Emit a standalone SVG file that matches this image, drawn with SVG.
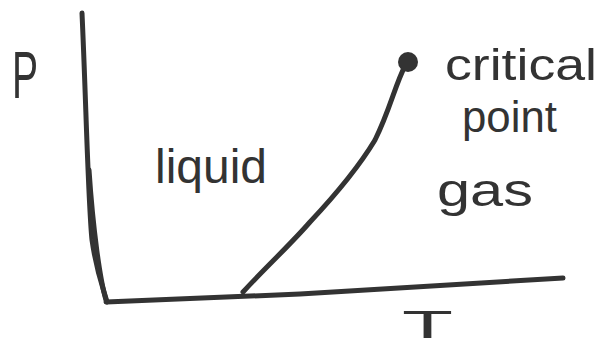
<svg xmlns="http://www.w3.org/2000/svg" width="601" height="347" viewBox="0 0 601 347">
<style>
.ink{fill:none;stroke:#333;stroke-width:5;stroke-linecap:round;stroke-linejoin:round}
.lbl{font-family:"Liberation Sans","DejaVu Sans",sans-serif;fill:#333}
</style>
<rect width="601" height="347" fill="#fff"/>
<g id="axes">
<path class="ink" d="M82,13 C86,100 88,200 92,240 C97,275 104,290 107,302"/>
<path class="ink" d="M89,170 C93,230 100,280 106,300" stroke-width="8"/>
<path class="ink" d="M106,302 L300,294 L563,278"/>
</g>
<g id="connectors">
<path class="ink" d="M243,292 C265,268 290,245 310,222 C340,190 360,165 375,140 C390,110 395,85 405,66"/>
</g>
<g id="critical-point">
<circle cx="408" cy="62" r="10" fill="#333"/>
<text class="lbl" x="445" y="80" font-size="44" textLength="152" lengthAdjust="spacingAndGlyphs">critical</text>
<text class="lbl" x="462" y="132" font-size="44" textLength="95" lengthAdjust="spacingAndGlyphs">point</text>
</g>
<g id="liquid">
<text class="lbl" x="155" y="183" font-size="48" textLength="112" lengthAdjust="spacingAndGlyphs">liquid</text>
</g>
<g id="gas">
<text class="lbl" x="437" y="206" font-size="46" textLength="96" lengthAdjust="spacingAndGlyphs">gas</text>
</g>
<g id="P-label">
<text class="lbl" x="12" y="98" font-size="66" textLength="26" lengthAdjust="spacingAndGlyphs">P</text>
</g>
<g id="T-label">
<text class="lbl" x="402" y="338" font-size="38" textLength="51" lengthAdjust="spacingAndGlyphs">T</text>
</g>
</svg>
